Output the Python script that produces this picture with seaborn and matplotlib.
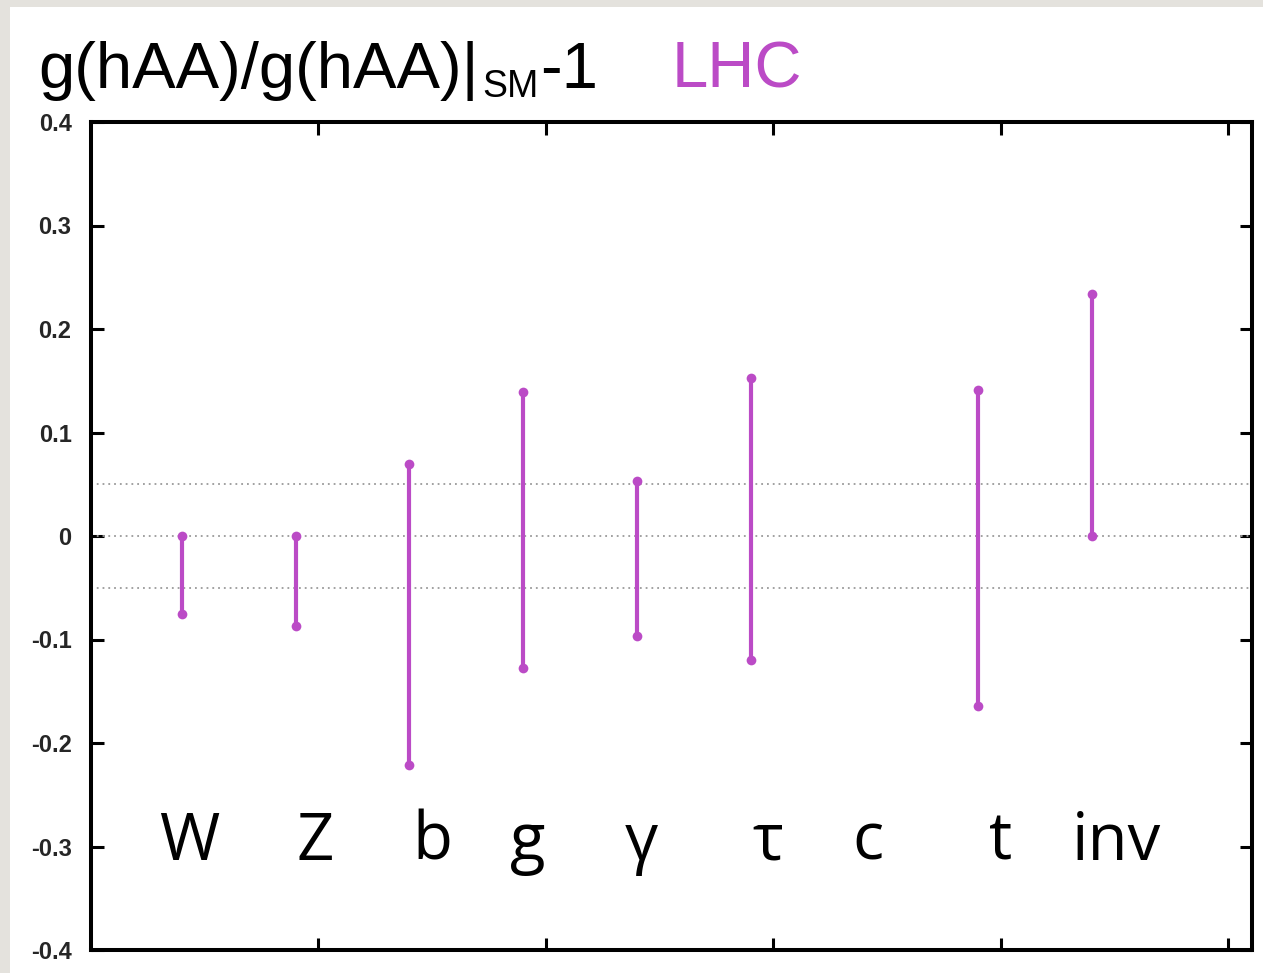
import numpy as np
import pandas as pd
import matplotlib
matplotlib.use("Agg")
import matplotlib.pyplot as plt
from matplotlib.patches import Rectangle
import seaborn as sns

# Higgs coupling deviations from the Standard Model, LHC projection
channels = ["W", "Z", "b", "g", "γ", "τ", "c", "t", "inv"]
upper = [0.0, 0.0, 0.070, 0.139, 0.053, 0.153, np.nan, 0.141, 0.234]
lower = [-0.075, -0.087, -0.221, -0.128, -0.097, -0.120, np.nan, -0.164, 0.0]
yticks = [-0.4, -0.3, -0.2, -0.1, 0, 0.1, 0.2, 0.3, 0.4]
ytick_labels = ["-0.4", "-0.3", "-0.2", "-0.1", "0", "0.1", "0.2", "0.3", "0.4"]
ref_lines = [-0.05, 0.0, 0.05]

MAGENTA = "#bb4bc6"
W, H = 1263, 973

sns.set_style("white")
plt.rcParams["font.family"] = ["Liberation Sans", "DejaVu Sans"]

# channel positions along the x axis
xpos = [0.4 + 0.5 * i for i in range(len(channels))]
label_x = [0.43, 0.985, 1.50, 1.92, 2.42, 2.975, 3.415, 4.0, 4.51]

rows = []
for ch, x, lo, hi in zip(channels, xpos, lower, upper):
    if np.isnan(lo):
        continue
    rows.append({"channel": ch, "x": x, "y": lo})
    rows.append({"channel": ch, "x": x, "y": hi})
df = pd.DataFrame(rows)

fig = plt.figure(figsize=(W / 100, H / 100), dpi=100)
fig.patch.set_facecolor("#e4e2dd")
fig.patches.append(Rectangle((10 / W, 0), 1, 1 - 7 / H, transform=fig.transFigure,
                             facecolor="white", edgecolor="none", zorder=-5))

ax = fig.add_axes([91 / W, 23 / H, (1252 - 91) / W, (950 - 122) / H])
ax.set_facecolor("white")

for v in ref_lines:
    ax.axhline(v, color="#9a9a9a", lw=1.3, ls=(0, (1, 2.2)), zorder=1)

sns.lineplot(data=df, x="x", y="y", units="channel", estimator=None,
             color=MAGENTA, lw=3.0, marker="o", markersize=7, markeredgewidth=0,
             sort=False, legend=False, ax=ax, zorder=3)

for lx, ch in zip(label_x, channels):
    ax.text(lx, -0.313, ch, ha="center", va="baseline", fontsize=47,
            family=["Open Sans", "DejaVu Sans"], color="black")

ax.set_xlim(0, 5.105)
ax.set_ylim(-0.4, 0.4)
ax.set_xticks([1, 2, 3, 4, 5])
ax.set_xticklabels([])
ax.set_yticks(yticks)
ax.set_yticklabels(ytick_labels, fontweight="bold", fontsize=17)
ax.set_xlabel("")
ax.set_ylabel("")
ax.tick_params(axis="both", direction="in", length=9, width=2.2, color="black",
               top=True, right=True, bottom=True, left=True)
ax.tick_params(axis="y", pad=14)
for s in ax.spines.values():
    s.set_visible(True)
    s.set_color("black")
    s.set_linewidth(2.9)

# title assembled from pieces so the SM subscript sits low and small
renderer = fig.canvas.get_renderer()
base_y = 1 - 88 / H
t1 = fig.text(38 / W, base_y, "g(hAA)/g(hAA)|", fontsize=47, color="black",
              ha="left", va="baseline")
x1 = t1.get_window_extent(renderer).x1 / W
t2 = fig.text(x1 + 4 / W, base_y - 9 / H, "SM", fontsize=27, color="black",
              ha="left", va="baseline")
x2 = t2.get_window_extent(renderer).x1 / W
fig.text(x2 + 1 / W, base_y, "-1", fontsize=47, color="black",
         ha="left", va="baseline")
fig.text(672 / W, base_y, "LHC", fontsize=47, color=MAGENTA,
         ha="left", va="baseline")

fig.savefig("out.png", dpi=100, facecolor=fig.get_facecolor())
